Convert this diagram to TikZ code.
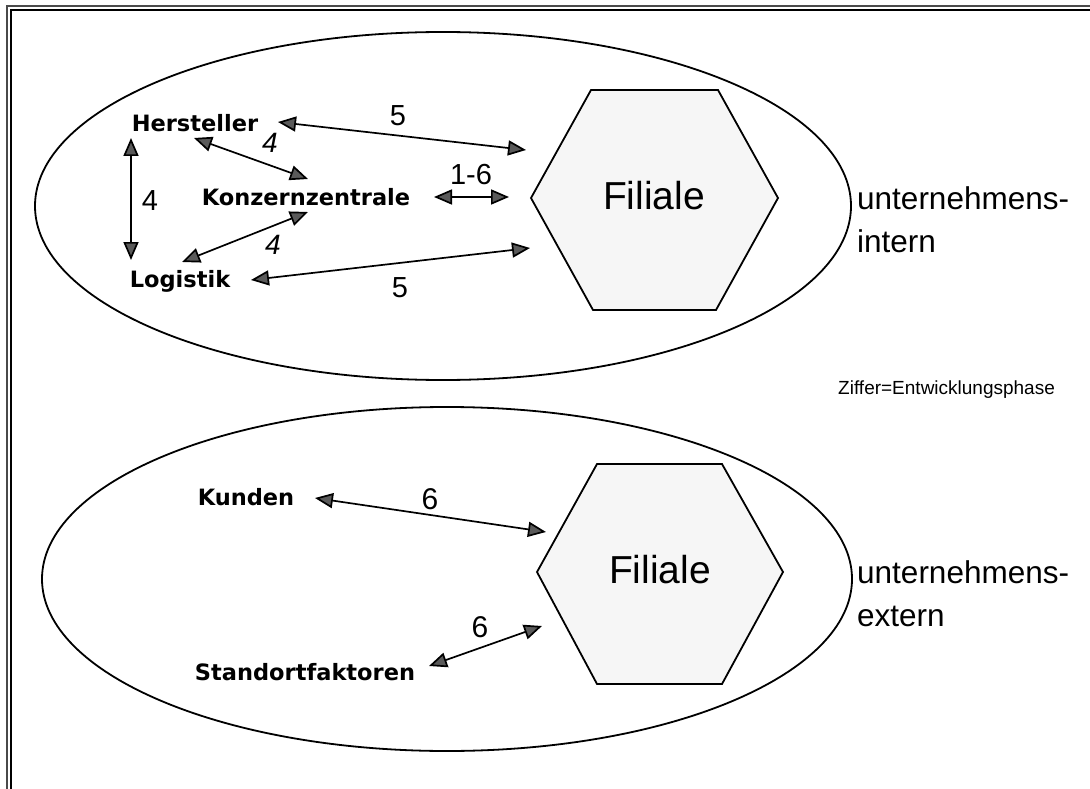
\documentclass[tikz,border=0pt]{standalone}
\usepackage{fontspec}
\setmainfont{Liberation Sans}
\newfontfamily\labfont{DejaVu Sans}
\usetikzlibrary{arrows.meta}
\definecolor{headgray}{HTML}{5A5A5A}
\definecolor{hexfill}{HTML}{F6F6F6}
\definecolor{framegray}{HTML}{4A4A4A}
\begin{document}
\begin{tikzpicture}[x=1pt,y=-1pt,
  lab/.style={font=\labfont\bfseries\fontsize{22.5}{27}\selectfont, inner sep=0pt, anchor=base},
  num/.style={font=\fontsize{29}{33}\selectfont, inner sep=0pt, anchor=base},
  numb/.style={font=\fontsize{30}{34}\selectfont, inner sep=0pt, anchor=base},
  big/.style={font=\fontsize{39}{44}\selectfont, inner sep=0pt},
  side/.style={font=\fontsize{31.5}{43}\selectfont, inner sep=0pt, align=left, anchor=west},
  conn/.style={line width=1.7pt, {Triangle[length=18pt,width=15pt,fill=headgray]}-{Triangle[length=18pt,width=15pt,fill=headgray]}},
  oval/.style={line width=1.8pt},
  hex/.style={line width=1.8pt, fill=hexfill, line join=miter}]
\useasboundingbox (0,0) rectangle (1090,789);
% frame
\draw[framegray, line width=2.4pt] (7,789) -- (7,6) -- (1090,6);
\draw[black, line width=2.4pt] (11,789) -- (11,10) -- (1090,10);
% ellipses
\draw[oval] (443,206) ellipse [x radius=408, y radius=174];
\draw[oval] (447,579) ellipse [x radius=405, y radius=172];
% hexagons
\draw[hex] (591,90) -- (718,90) -- (778,198) -- (716,310) -- (593,310) -- (531,198) -- cycle;
\draw[hex] (597,464) -- (722,464) -- (783,572) -- (722,684) -- (597,684) -- (537,572) -- cycle;
\node[big] (fil1) at (654,196) {Filiale};
\node[big] (fil2) at (660,570) {Filiale};
% labels
\node[lab] (her) at (195,132) {Hersteller};
\node[lab] (kon) at (306,205) {Konzernzentrale};
\node[lab] (log) at (180,287) {Logistik};
\node[lab] (kun) at (246,505) {Kunden};
\node[lab] (sta) at (305,680) {Standortfaktoren};
% side texts
\node[side] (intern) at (857,220) {unternehmens-\\intern};
\node[side] (extern) at (857,594) {unternehmens-\\extern};
\node[font=\fontsize{19}{22}\selectfont, inner sep=0pt, anchor=west] (ziffer) at (838,390) {Ziffer=Entwicklungsphase};
% connector end points
\coordinate (herA) at (278,122);
\coordinate (filA) at (526,150);
\coordinate (herB) at (194,138);
\coordinate (konB) at (308,179);
\coordinate (herC) at (131,138);
\coordinate (logC) at (131,260);
\coordinate (konD) at (434,197);
\coordinate (filD) at (509,197);
\coordinate (konE) at (308,212);
\coordinate (logE) at (182,262);
\coordinate (logF) at (251,280);
\coordinate (filF) at (530,248);
\coordinate (kunG) at (315,498);
\coordinate (filG) at (546,532);
\coordinate (staH) at (429,666);
\coordinate (filH) at (542,626);
% connectors
\draw[conn] (herA) -- (filA);
\draw[conn] (herB) -- (konB);
\draw[conn] (herC) -- (logC);
\draw[conn] (konD) -- (filD);
\draw[conn] (konE) -- (logE);
\draw[conn] (logF) -- (filF);
\draw[conn] (kunG) -- (filG);
\draw[conn] (staH) -- (filH);
% numbers
\node[num] (n1) at (398,126) {5};
\node[num, font=\itshape\fontsize{28}{32}\selectfont] (n2) at (270,153) {4};
\node[num] (n3) at (150,210) {4};
\node[num] (n4) at (471,184) {1-6};
\node[num, font=\itshape\fontsize{28}{32}\selectfont] (n5) at (273,254) {4};
\node[num] (n6) at (400,297) {5};
\node[numb] (n7) at (430,509) {6};
\node[numb] (n8) at (480,637) {6};
\end{tikzpicture}
\end{document}
